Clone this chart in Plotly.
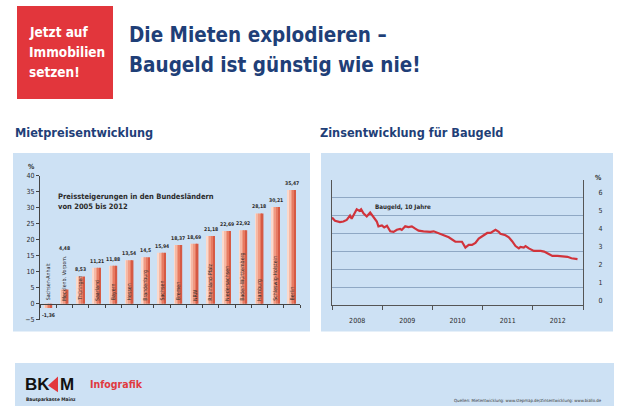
import plotly.graph_objects as go

W, H = 630, 412

# ---------------- data ----------------
laender = ["Sachsen-Anhalt", "Mecklenb. Vorpom.", "Thüringen", "Saarland", "Bayern",
           "Hessen", "Brandenburg", "Sachsen", "Bremen", "NRW", "Rheinland-Pfalz",
           "Niedersachsen", "Baden-Württemberg", "Hamburg", "Schleswig-Holstein", "Berlin"]
steigerung = [-1.36, 4.48, 8.53, 11.21, 11.88, 13.54, 14.5, 15.94, 18.37, 18.69,
              21.18, 22.69, 22.92, 28.18, 30.21, 35.47]
steigerung_labels = ["-1,36", "4,48", "8,53", "11,21", "11,88", "13,54", "14,5", "15,94",
                     "18,37", "18,69", "21,18", "22,69", "22,92", "28,18", "30,21", "35,47"]
miete_ticks = [-5, 0, 5, 10, 15, 20, 25, 30, 35, 40]

zins_datum = ["2008-01-01", "2008-01-23", "2008-02-28", "2008-03-24", "2008-04-17",
              "2008-05-11", "2008-05-23", "2008-06-29", "2008-07-19", "2008-07-31",
              "2008-08-17", "2008-09-10", "2008-10-05", "2008-10-29", "2008-11-22",
              "2008-12-04", "2008-12-29", "2009-01-15", "2009-02-04", "2009-02-28",
              "2009-03-24", "2009-04-17", "2009-05-11", "2009-05-23", "2009-06-17",
              "2009-07-11", "2009-08-04", "2009-08-29", "2009-09-22", "2009-10-28",
              "2009-12-16", "2010-01-10", "2010-02-16", "2010-03-24", "2010-04-30",
              "2010-06-17", "2010-08-04", "2010-08-29", "2010-09-22", "2010-10-16",
              "2010-11-10", "2010-12-04", "2010-12-29", "2011-01-15", "2011-02-04",
              "2011-02-28", "2011-03-24", "2011-04-05", "2011-04-29", "2011-05-11",
              "2011-06-17", "2011-07-11", "2011-08-04", "2011-08-29", "2011-09-22",
              "2011-10-04", "2011-10-28", "2011-11-10", "2011-12-04", "2012-01-10",
              "2012-02-28", "2012-03-24", "2012-04-30", "2012-05-23", "2012-06-29",
              "2012-07-23", "2012-08-17", "2012-09-10", "2012-10-09", "2012-11-10",
              "2012-11-22"]
zins_wert = [4.88, 4.70, 4.63, 4.66, 4.75, 4.99, 4.81, 5.34, 5.25, 5.34,
             5.12, 4.94, 5.16, 4.94, 4.66, 4.39, 4.44, 4.33, 4.42, 4.11,
             4.08, 4.20, 4.24, 4.19, 4.39, 4.35, 4.39, 4.26, 4.15, 4.11,
             4.08, 4.11, 3.99, 3.89, 3.78, 3.53, 3.53, 3.20, 3.35, 3.35,
             3.47, 3.71, 3.84, 3.89, 4.02, 4.02, 4.15, 4.20, 4.08, 3.97,
             3.89, 3.78, 3.56, 3.29, 3.16, 3.24, 3.20, 3.29, 3.16, 3.02,
             3.02, 2.98, 2.83, 2.74, 2.74, 2.71, 2.71, 2.69, 2.61, 2.56,
             2.56]
zins_ticks = [0, 1, 2, 3, 4, 5, 6]

# ---------------- style ----------------
NARROW = "Liberation Sans Narrow, Arial Narrow, DejaVu Sans Condensed, Roboto Condensed, sans-serif"
BLUE = "#1f3f78"
RED = "#e2363c"
PANEL = "#cde1f4"
DARK = "#2b2b2b"


def px(x):
    return x / W


def py(y):
    return 1 - y / H


fig = go.Figure()

# gradient bars (strips overlaid)
strip_colors = ["#fbd9cc", "#f6b9a5", "#f09a82", "#e77b62", "#d65a44"]
n = len(strip_colors)
bw = 0.5
for i, c in enumerate(strip_colors):
    fig.add_trace(go.Bar(
        x=laender, y=steigerung, width=bw / n, offset=-bw / 2 + i * bw / n,
        marker=dict(color=c, line=dict(width=0)), xaxis="x", yaxis="y",
        hoverinfo="skip", showlegend=False))

fig.add_trace(go.Scatter(
    x=zins_datum, y=zins_wert, mode="lines",
    line=dict(color="#d1333b", width=2.2), xaxis="x2", yaxis="y2",
    showlegend=False))

# ---------------- axes ----------------
y_top_px, y_bot_px = 175, 322
y_dom = [py(y_bot_px), py(y_top_px)]
y_rng = [-5, 40]
px_per_unit = (y_bot_px - y_top_px) / (y_rng[1] - y_rng[0])
zero_pos = y_dom[0] + (0 - y_rng[0]) / (y_rng[1] - y_rng[0]) * (y_dom[1] - y_dom[0])

fig.update_layout(
    width=W, height=H, margin=dict(l=0, r=0, t=0, b=0),
    paper_bgcolor="white", plot_bgcolor="rgba(0,0,0,0)",
    barmode="overlay", showlegend=False,
    font=dict(family=NARROW, color=DARK),
    xaxis=dict(domain=[px(40), px(300)], range=[-0.5, len(laender) - 0.5],
               type="category", anchor="free", position=zero_pos,
               showline=True, linecolor="#444", linewidth=1,
               ticks="outside", tickson="boundaries", ticklen=3, tickcolor="#444",
               showticklabels=False, showgrid=False, zeroline=False, fixedrange=True),
    yaxis=dict(domain=y_dom, range=y_rng, anchor="x", tickvals=miete_ticks,
               showline=True, linecolor="#444", linewidth=1,
               ticks="outside", ticklen=3, tickcolor="#444",
               tickfont=dict(size=7, family=NARROW, color=DARK),
               showgrid=False, zeroline=False),
    xaxis2=dict(domain=[px(332), px(583)], range=["2008-01-01", "2013-01-01"],
                type="date", anchor="y2", tick0="2008-01-01", dtick="M12",
                tickformat="%Y", ticklabelmode="period", ticklabelstandoff=5,
                showline=True, linecolor="#555", linewidth=1,
                ticks="outside", ticklen=4, tickcolor="#555",
                tickfont=dict(size=7, family=NARROW, color=DARK),
                showgrid=False, zeroline=False),
    yaxis2=dict(domain=[py(307), py(179)], range=[0, 7], anchor="x2", side="right",
                tickvals=zins_ticks, ticklabelposition="outside top",
                ticklabelstandoff=13,
                showline=True, mirror=True, linecolor="#555", linewidth=1,
                showgrid=True, gridcolor="#8fa8c4", gridwidth=1, ticks="",
                tickfont=dict(size=7, family=NARROW, color=DARK),
                zeroline=False),
)

# ---------------- shapes ----------------
shapes = [
    dict(type="rect", xref="paper", yref="paper", x0=px(17), x1=px(113), y0=py(97), y1=py(2),
         fillcolor=RED, line=dict(width=0), layer="below"),
    dict(type="rect", xref="paper", yref="paper", x0=px(13), x1=px(310), y0=py(334), y1=py(152),
         fillcolor=PANEL, line=dict(width=0), layer="below"),
    dict(type="rect", xref="paper", yref="paper", x0=px(321), x1=px(613), y0=py(334), y1=py(152),
         fillcolor=PANEL, line=dict(width=0), layer="below"),
    dict(type="rect", xref="paper", yref="paper", x0=px(15), x1=px(614), y0=py(410), y1=py(366),
         fillcolor=PANEL, line=dict(width=0), layer="below"),
    dict(type="path", xref="paper", yref="paper",
         path=f"M {px(58)} {py(380)} L {px(48)} {py(389)} L {px(58)} {py(396)} Z",
         fillcolor=RED, line=dict(width=0)),
]
fig.update_layout(shapes=shapes)

# ---------------- annotations ----------------
ann = []


def text(x, y, s, size, color=DARK, bold=True, xanchor="left", yanchor="middle",
         family=NARROW, **kw):
    ann.append(dict(xref="paper", yref="paper", x=px(x), y=py(y),
                    text=f"<b>{s}</b>" if bold else s, showarrow=False,
                    xanchor=xanchor, yanchor=yanchor, borderpad=0,
                    font=dict(size=size, color=color, family=family), **kw))


# header
for yy, s in zip([29, 49, 69], ["Jetzt auf", "Immobilien", "setzen!"]):
    text(28, yy, s, 13.5, color="white")
for yy, s in zip([32, 62], ["Die Mieten explodieren –", "Baugeld ist günstig wie nie!"]):
    text(128, yy, s, 20.5, color=BLUE)
text(14, 131, "Mietpreisentwicklung", 12.6, color=BLUE)
text(319, 131, "Zinsentwicklung für Baugeld", 12.6, color=BLUE)

# left chart texts
text(31, 166, "%", 7, xanchor="center")
text(57, 201, "Preissteigerungen in den Bundesländern<br>von 2005 bis 2012", 7.5, align="left")

NAME_SIZE = 5.3
for name, v, lab in zip(laender, steigerung, steigerung_labels):
    # if the rotated name is taller than the bar, lift the value label above it
    name_len = len(name) * 0.52 * NAME_SIZE + 2
    bar_len = v * px_per_unit
    lift = max(0.0, name_len - bar_len) if v >= 0 else 0.0
    ann.append(dict(xref="x", yref="y", x=name, y=v, text=f"<b>{lab}</b>", showarrow=False,
                    xanchor="center", yanchor="bottom" if v >= 0 else "top",
                    yshift=(3 + lift) if v >= 0 else -3, borderpad=0,
                    font=dict(size=5, color=DARK, family=NARROW)))
    ann.append(dict(xref="x", yref="y", x=name, y=0, text=name, showarrow=False,
                    textangle=-90, xanchor="center", yanchor="bottom", yshift=2,
                    borderpad=0,
                    font=dict(size=NAME_SIZE, color=DARK, family=NARROW)))

# right chart texts
text(374, 207, "Baugeld, 10 Jahre", 6.2)
text(598, 177, "%", 7, xanchor="center")

# footer
text(24, 388, "BK", 17, color="#111", family="Liberation Sans, Arial, sans-serif")
text(59, 388, "M", 17, color="#111", family="Liberation Sans, Arial, sans-serif")
text(25, 403, "Bausparkasse Mainz", 4.8, color="#222")
text(89, 388, "Infografik", 10.5, color="#e03a40")
text(603, 404, "Quellen: Mietentwicklung: www.stepmap.de/Zinsentwicklung: www.biallo.de", 4.3,
     color="#333", bold=False, xanchor="right")

fig.update_layout(annotations=ann)

fig.write_html("out.html", config={"displayModeBar": False},
               post_script="document.body.style.margin='0';document.body.style.overflow='hidden';")
